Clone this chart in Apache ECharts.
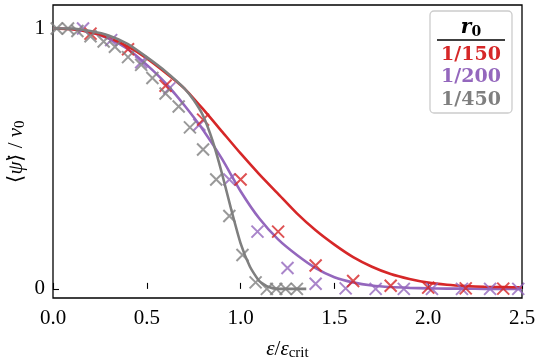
<!DOCTYPE html>
<html>
<head>
<meta charset="utf-8">
<script src="https://cdn.jsdelivr.net/npm/echarts@6/dist/echarts.min.js"></script>
<style>
  html, body { margin: 0; padding: 0; background: #fff; }
  #chart { width: 538px; height: 361px; }
</style>
</head>
<body>
<div id="chart"></div>
<script>
// fitted curves
const curveX = [0, 0.1, 0.2, 0.3, 0.4, 0.5, 0.6, 0.7, 0.8, 0.9, 1.0, 1.1, 1.2, 1.3, 1.4, 1.5, 1.6, 1.7, 1.8, 1.9, 2.0, 2.1, 2.2, 2.3, 2.4, 2.5]
const redCurve = [1.0, 0.997, 0.985, 0.963, 0.93, 0.885, 0.83, 0.77, 0.69, 0.605, 0.52, 0.44, 0.365, 0.29, 0.225, 0.17, 0.122, 0.085, 0.057, 0.038, 0.024, 0.016, 0.011, 0.008, 0.007, 0.006]
const purpleCurve = [1.0, 0.998, 0.985, 0.96, 0.92, 0.86, 0.79, 0.705, 0.61, 0.5, 0.375, 0.27, 0.19, 0.13, 0.08, 0.045, 0.025, 0.013, 0.007, 0.004, 0.002, 0.001, 0.001, 0, 0, 0]
const grayCurveX = [0, 0.1, 0.2, 0.3, 0.4, 0.5, 0.6, 0.7, 0.75, 0.8, 0.85, 0.9, 0.95, 1.0, 1.05, 1.1, 1.15, 1.2, 1.3, 1.35]
const grayCurve = [1.0, 1.0, 0.99, 0.972, 0.94, 0.89, 0.835, 0.77, 0.725, 0.665, 0.57, 0.445, 0.305, 0.175, 0.085, 0.03, 0.007, 0, 0, 0]

// simulation points
const redX = [0.2, 0.4, 0.6, 0.8, 1.0, 1.2, 1.4, 1.6, 1.8, 2.0, 2.2, 2.4]
const redY = [0.98, 0.92, 0.78, 0.65, 0.42, 0.22, 0.09, 0.03, 0.012, 0.005, 0.002, 0.001]
const purpleX = [0.16, 0.31, 0.47, 0.62, 0.78, 0.94, 1.09, 1.25, 1.40, 1.56, 1.72, 1.87, 2.02, 2.18, 2.33, 2.48]
const purpleY = [1.0, 0.955, 0.87, 0.77, 0.63, 0.42, 0.22, 0.08, 0.02, 0.002, 0, 0, 0, 0, 0, 0]
const grayX = [0.02, 0.08, 0.13, 0.2, 0.27, 0.33, 0.4, 0.47, 0.53, 0.6, 0.67, 0.73, 0.8, 0.87, 0.94, 1.01, 1.08, 1.14, 1.19, 1.24, 1.3]
const grayY = [1.0, 1.0, 0.99, 0.97, 0.95, 0.93, 0.89, 0.86, 0.81, 0.75, 0.70, 0.62, 0.535, 0.42, 0.28, 0.13, 0.025, 0, 0, 0, 0]

const xTicks = [0, 0.5, 1.0, 1.5, 2.0, 2.5]
const yTicks = [0, 1]
const legendTitle = 'r'
const legendNames = ['1/150', '1/200', '1/450']
const colors = ['#d62728', '#9467bd', '#7f7f7f']

const serif = 'Liberation Serif'
const cross = 'path://M0,0L10,10M10,0L0,10'

const zip = (xs, ys) => xs.map((x, i) => [x, ys[i]])

function lineSeries (xs, ys, color, z) {
  return {
    type: 'line',
    data: zip(xs, ys),
    smooth: 0.2,
    showSymbol: false,
    lineStyle: { color: color, width: 2.6 },
    z: z,
    silent: true
  }
}

function crossSeries (xs, ys, color, z) {
  return {
    type: 'scatter',
    data: zip(xs, ys),
    symbol: cross,
    symbolSize: 12,
    itemStyle: { color: 'rgba(0,0,0,0)', borderColor: color, borderWidth: 2 },
    z: z,
    silent: true
  }
}

const chart = echarts.init(document.getElementById('chart'))

const axisName = {
  color: '#000',
  fontFamily: serif,
  fontSize: 21,
  rich: {
    it: { fontFamily: serif, fontStyle: 'italic', fontSize: 21, color: '#000' },
    sub: { fontFamily: serif, fontSize: 15, color: '#000', verticalAlign: 'bottom', padding: [8, 0, 0, 0] }
  }
}

const option = {
  animation: false,
  grid: {
    show: true,
    left: 53,
    right: 16,
    top: 5,
    bottom: 63,
    containLabel: false,
    outerBoundsMode: 'none',
    borderColor: '#000',
    borderWidth: 1.3,
    backgroundColor: 'transparent'
  },
  xAxis: {
    type: 'value',
    min: 0,
    max: 2.5,
    interval: 0.5,
    axisLine: { show: false },
    axisTick: { inside: true, length: 6, lineStyle: { color: '#000', width: 1.1 }, customValues: xTicks },
    axisLabel: {
      customValues: xTicks,
      formatter: v => v.toFixed(1),
      color: '#000',
      fontFamily: serif,
      fontSize: 21,
      margin: 10
    },
    splitLine: { show: false },
    name: '{it|ε}/{it|ε}{sub|crit}',
    nameLocation: 'middle',
    nameMoveOverlap: false,
    nameGap: 40,
    nameTextStyle: axisName
  },
  yAxis: {
    type: 'value',
    min: -0.035,
    max: 1.09,
    axisLine: { show: false },
    axisTick: { inside: true, length: 6, lineStyle: { color: '#000', width: 1.1 }, customValues: yTicks },
    axisLabel: {
      customValues: yTicks,
      formatter: v => String(Math.round(v)),
      color: '#000',
      fontFamily: serif,
      fontSize: 21,
      margin: 8
    },
    splitLine: { show: false },
    name: '⟨{it|ψ̇}⟩ / {it|ν}{sub|0}',
    nameLocation: 'middle',
    nameMoveOverlap: false,
    nameGap: 25,
    nameTextStyle: axisName
  },
  graphic: [
    {
      type: 'rect',
      shape: { x: 430, y: 11, width: 82, height: 102, r: 4 },
      style: { fill: '#fff', stroke: '#cccccc', lineWidth: 1.3 },
      z: 100
    },
    {
      type: 'text',
      x: 471,
      y: 28,
      style: {
        text: '{r|' + legendTitle + '}{s|0}',
        align: 'center',
        verticalAlign: 'middle',
        rich: {
          r: { fontFamily: 'DejaVu Serif', fontStyle: 'italic', fontWeight: 'bold', fontSize: 20, fill: '#000' },
          s: { fontFamily: 'DejaVu Serif', fontWeight: 'bold', fontSize: 14, fill: '#000', padding: [8, 0, 0, 0] }
        }
      },
      z: 101
    },
    {
      type: 'line',
      shape: { x1: 437, y1: 40, x2: 505, y2: 40 },
      style: { stroke: '#000', lineWidth: 1.3 },
      z: 101
    },
    ...legendNames.map((name, i) => ({
      type: 'text',
      x: 471,
      y: 55 + i * 22.5,
      style: {
        text: name,
        align: 'center',
        verticalAlign: 'middle',
        fontFamily: 'DejaVu Serif',
        fontWeight: 'bold',
        fontSize: 19,
        fill: colors[i]
      },
      z: 101
    }))
  ],
  series: [
    lineSeries(curveX, purpleCurve, colors[1], 2),
    lineSeries(curveX, redCurve, colors[0], 3),
    crossSeries(purpleX, purpleY, colors[1], 4),
    crossSeries(redX, redY, colors[0], 5),
    crossSeries(grayX, grayY, colors[2], 6),
    lineSeries(grayCurveX, grayCurve, colors[2], 7)
  ]
}

chart.setOption(option)
</script>
</body>
</html>
